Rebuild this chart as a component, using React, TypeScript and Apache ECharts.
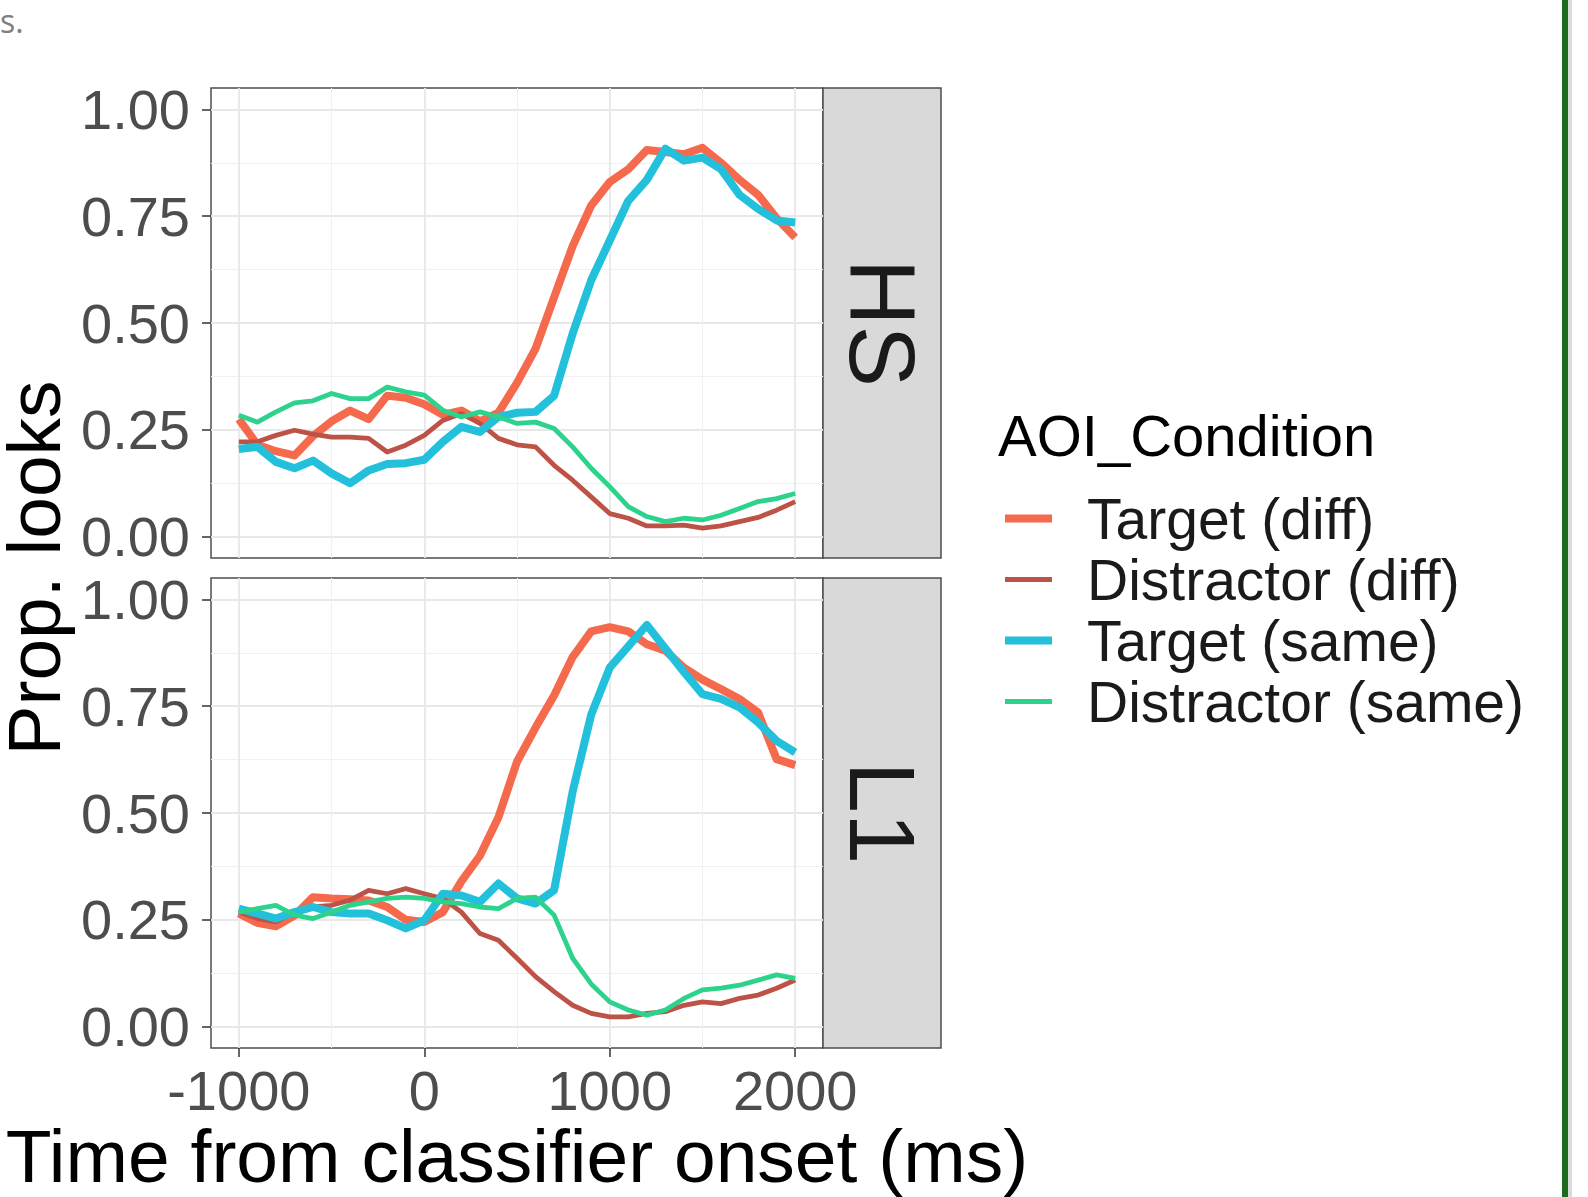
import React, { useEffect, useRef } from 'react';
import * as echarts from 'echarts';

// ---------- data ----------
const times = [
  -1000, -900, -800, -700, -600, -500, -400, -300, -200, -100, 0, 100, 200, 300, 400, 500,
  600, 700, 800, 900, 1000, 1100, 1200, 1300, 1400, 1500, 1600, 1700, 1800, 1900, 2000,
];
const facets = ['HS', 'L1'];
const conditions = ['Target (diff)', 'Distractor (diff)', 'Target (same)', 'Distractor (same)'];
const legendTitle = 'AOI_Condition';
const xTitle = 'Time from classifier onset (ms)';
const yTitle = 'Prop. looks';

const hsTargetDiff = [
  0.275, 0.215, 0.2, 0.19, 0.235, 0.27, 0.295, 0.275, 0.33, 0.325, 0.31, 0.285, 0.295, 0.27, 0.29, 0.36,
  0.44, 0.56, 0.68, 0.775, 0.83, 0.86, 0.905, 0.9, 0.895, 0.91, 0.875, 0.835, 0.8, 0.745, 0.7,
];
const hsDistractorDiff = [
  0.222, 0.222, 0.237, 0.249, 0.24, 0.233, 0.233, 0.23, 0.198, 0.214, 0.237, 0.272, 0.288, 0.265, 0.23, 0.215,
  0.21, 0.167, 0.132, 0.093, 0.054, 0.043, 0.025, 0.025, 0.027, 0.02, 0.025, 0.035, 0.045, 0.062, 0.082,
];
const hsTargetSame = [
  0.205, 0.21, 0.175, 0.16, 0.178, 0.148, 0.125, 0.155, 0.17, 0.172, 0.18, 0.222, 0.257, 0.245, 0.28, 0.29,
  0.292, 0.33, 0.475, 0.6, 0.693, 0.786, 0.835, 0.908, 0.88, 0.887, 0.86, 0.8, 0.767, 0.74, 0.735,
];
const hsDistractorSame = [
  0.284, 0.268, 0.292, 0.313, 0.318, 0.335, 0.323, 0.323, 0.35, 0.339, 0.331, 0.296, 0.28, 0.292, 0.28, 0.265,
  0.268, 0.253, 0.21, 0.16, 0.117, 0.07, 0.047, 0.035, 0.043, 0.039, 0.05, 0.066, 0.082, 0.089, 0.101,
];

const l1TargetDiff = [
  0.265, 0.243, 0.235, 0.26, 0.303, 0.3, 0.298, 0.295, 0.28, 0.25, 0.245, 0.268, 0.34, 0.4, 0.49, 0.62,
  0.7, 0.775, 0.865, 0.925, 0.935, 0.925, 0.895, 0.88, 0.84, 0.812, 0.79, 0.767, 0.735, 0.626, 0.612,
];
const l1DistractorDiff = [
  0.268, 0.253, 0.245, 0.268, 0.28, 0.284, 0.296, 0.319, 0.311, 0.323, 0.311, 0.3, 0.268, 0.218, 0.202, 0.16,
  0.117, 0.082, 0.05, 0.031, 0.023, 0.023, 0.031, 0.035, 0.05, 0.058, 0.054, 0.066, 0.074, 0.09, 0.109,
];
const l1TargetSame = [
  0.276, 0.265, 0.253, 0.268, 0.28, 0.268, 0.265, 0.265, 0.249, 0.23, 0.249, 0.311, 0.307, 0.292, 0.335, 0.3,
  0.288, 0.319, 0.55, 0.73, 0.84, 0.89, 0.94, 0.885, 0.83, 0.778, 0.767, 0.747, 0.712, 0.669, 0.642,
];
const l1DistractorSame = [
  0.268, 0.276, 0.284, 0.261, 0.253, 0.268, 0.284, 0.292, 0.3, 0.303, 0.3, 0.292, 0.288, 0.28, 0.276, 0.3,
  0.303, 0.261, 0.16, 0.1, 0.058, 0.039, 0.027, 0.039, 0.066, 0.086, 0.09, 0.097, 0.109, 0.121, 0.113,
];

const panelValues = [
  [hsTargetDiff, hsDistractorDiff, hsTargetSame, hsDistractorSame],
  [l1TargetDiff, l1DistractorDiff, l1TargetSame, l1DistractorSame],
];

const xMajorTicks = [-1000, 0, 1000, 2000];
const xMinorTicks = [-500, 500, 1500];
const yMajorTicks = [0, 0.25, 0.5, 0.75, 1];
const yMinorTicks = [0.125, 0.375, 0.625, 0.875];

// ---------- styles / layout ----------
const colors = ['#F5694D', '#BD5346', '#22C0DB', '#2DD38D'];
const lineWidths = [8, 4.8, 8, 4.8];
const FONT = 'Liberation Sans';
const PANEL_LEFT = 211;
const PANEL_W = 612;
const PANEL_H = 470;
const PANEL_TOPS = [88, 578];
const STRIP_W = 118;
const BORDER = '#4D4D4D';
const MAJOR_GRID = { color: '#E8E8E8', width: 1.8 };
const MINOR_GRID = { color: '#F1F1F1', width: 1 };

function buildOption() {
  const grid = PANEL_TOPS.map((top) => ({
    left: PANEL_LEFT,
    top,
    width: PANEL_W,
    height: PANEL_H,
    show: true,
    backgroundColor: '#FFFFFF',
    borderColor: BORDER,
    borderWidth: 1.5,
  }));

  const xAxis: any[] = [];
  const yAxis: any[] = [];
  PANEL_TOPS.forEach((_, i) => {
    const isBottom = i === PANEL_TOPS.length - 1;
    xAxis.push({
      type: 'value',
      gridIndex: i,
      min: -1150,
      max: 2150,
      position: 'bottom',
      axisLine: { show: false, onZero: false },
      axisTick: {
        show: isBottom,
        customValues: xMajorTicks,
        length: 9,
        lineStyle: { color: '#333333', width: 1.5 },
      },
      axisLabel: {
        show: isBottom,
        customValues: xMajorTicks,
        formatter: (v: number) => String(Math.round(v)),
        fontSize: 56,
        lineHeight: 50,
        color: '#4D4D4D',
        fontFamily: FONT,
        margin: 17,
      },
      splitLine: { show: true, lineStyle: MAJOR_GRID },
      name: isBottom ? xTitle : '',
      nameLocation: 'middle',
      nameGap: 75,
      nameTextStyle: { fontSize: 75, lineHeight: 64, color: '#000000', fontFamily: FONT },
    });
    xAxis.push({
      type: 'value',
      gridIndex: i,
      min: -1150,
      max: 2150,
      position: 'bottom',
      axisLine: { show: false, onZero: false },
      axisTick: { show: false, customValues: xMinorTicks },
      axisLabel: { show: false, customValues: xMinorTicks },
      splitLine: { show: true, lineStyle: MINOR_GRID },
    });
    yAxis.push({
      type: 'value',
      gridIndex: i,
      min: -0.05,
      max: 1.05,
      position: 'left',
      axisLine: { show: false, onZero: false },
      axisTick: {
        show: true,
        customValues: yMajorTicks,
        length: 9,
        lineStyle: { color: '#333333', width: 1.5 },
      },
      axisLabel: {
        customValues: yMajorTicks,
        formatter: (v: number) => v.toFixed(2),
        fontSize: 56,
        lineHeight: 50,
        color: '#4D4D4D',
        fontFamily: FONT,
        margin: 21,
      },
      splitLine: { show: true, lineStyle: MAJOR_GRID },
    });
    yAxis.push({
      type: 'value',
      gridIndex: i,
      min: -0.05,
      max: 1.05,
      position: 'left',
      axisLine: { show: false, onZero: false },
      axisTick: { show: false, customValues: yMinorTicks },
      axisLabel: { show: false, customValues: yMinorTicks },
      splitLine: { show: true, lineStyle: MINOR_GRID },
    });
  });

  const series: any[] = [];
  panelValues.forEach((panel, i) => {
    panel.forEach((vals, k) => {
      series.push({
        type: 'line',
        name: conditions[k],
        xAxisIndex: 2 * i,
        yAxisIndex: 2 * i,
        symbol: 'none',
        showSymbol: false,
        data: times.map((t, j) => [t, vals[j]]),
        itemStyle: { color: colors[k] },
        lineStyle: { color: colors[k], width: lineWidths[k], cap: 'butt', join: 'round' },
        emphasis: { disabled: true },
        z: 3 + k,
      });
    });
  });

  const graphic: any[] = [];
  PANEL_TOPS.forEach((top, i) => {
    graphic.push({
      type: 'rect',
      shape: { x: PANEL_LEFT + PANEL_W, y: top, width: STRIP_W, height: PANEL_H },
      style: { fill: '#D9D9D9', stroke: BORDER, lineWidth: 1.5 },
    });
    graphic.push({
      type: 'text',
      x: PANEL_LEFT + PANEL_W + STRIP_W / 2,
      y: top + PANEL_H / 2,
      rotation: -Math.PI / 2,
      style: {
        text: facets[i],
        fontSize: 92,
        lineHeight: 80,
        fill: '#1A1A1A',
        fontFamily: FONT,
        align: 'center',
        verticalAlign: 'middle',
      },
    });
  });
  graphic.push({
    type: 'text',
    x: 34,
    y: (PANEL_TOPS[0] + PANEL_TOPS[1] + PANEL_H) / 2,
    rotation: Math.PI / 2,
    style: {
      text: yTitle,
      fontSize: 75,
      lineHeight: 64,
      fill: '#000000',
      fontFamily: FONT,
      align: 'center',
      verticalAlign: 'middle',
    },
  });
  graphic.push({
    type: 'text',
    x: 998,
    y: 435,
    style: {
      text: legendTitle,
      fontSize: 58,
      fill: '#000000',
      fontFamily: FONT,
      align: 'left',
      verticalAlign: 'middle',
    },
  });
  graphic.push({
    type: 'text',
    x: 0,
    y: 20,
    style: {
      text: 's.',
      fontSize: 32,
      fill: '#7F7F7F',
      fontFamily: 'Open Sans',
      align: 'left',
      verticalAlign: 'middle',
    },
  });
  graphic.push({
    type: 'rect',
    shape: { x: 1562, y: 0, width: 6, height: 1197 },
    style: { fill: '#1E6B1E' },
  });
  graphic.push({
    type: 'rect',
    shape: { x: 1568, y: 0, width: 4, height: 1197 },
    style: { fill: '#DADADA' },
  });

  return {
    animation: false,
    backgroundColor: '#FFFFFF',
    textStyle: { fontFamily: FONT },
    grid,
    xAxis,
    yAxis,
    series,
    legend: {
      show: true,
      orient: 'vertical',
      left: 1005,
      top: 488,
      padding: 0,
      itemGap: 0,
      itemWidth: 47,
      itemHeight: 8,
      symbolKeepAspect: true,
      selectedMode: false,
      itemStyle: { borderWidth: 0 },
      data: conditions.map((c, k) => ({
        name: c,
        icon: k % 2 === 0 ? 'path://M0,0H47V8H0Z' : 'path://M0,0H47V5H0Z',
      })),
      textStyle: {
        fontSize: 57,
        color: '#1A1A1A',
        fontFamily: FONT,
        lineHeight: 61,
        padding: [0, 0, 0, 30],
      },
    },
    graphic,
  };
}

export default function App() {
  const ref = useRef<HTMLDivElement>(null);
  useEffect(() => {
    document.body.style.margin = '0';
    if (!ref.current) return;
    const chart = echarts.init(ref.current, undefined, { renderer: 'svg' });
    chart.setOption(buildOption() as any);
    return () => {
      chart.dispose();
    };
  }, []);
  return (
    <div
      ref={ref}
      style={{ position: 'absolute', left: 0, top: 0, width: 1588, height: 1197, background: '#FFFFFF' }}
    />
  );
}
